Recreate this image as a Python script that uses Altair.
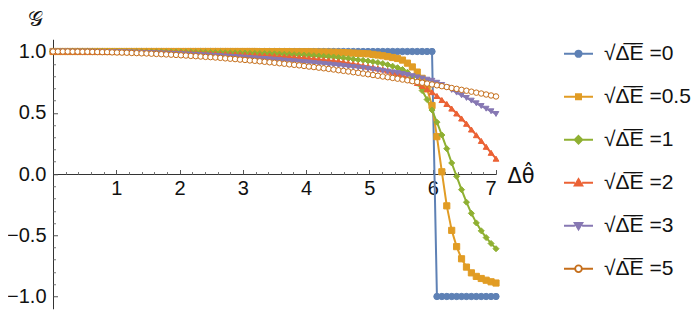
import altair as alt
import pandas as pd

# ---------------- data ----------------
theta = [round(i * 7 / 90, 4) for i in range(91)]

series_names = ["0", "0.5", "1", "2", "3", "5"]
colors = ["#5E81B5", "#E19C24", "#8FB032", "#EB6235", "#8778B3", "#C56E1A"]
fills = ["#5E81B5", "#E19C24", "#8FB032", "#EB6235", "#8778B3", "white"]
shapes = ["circle", "square", "diamond", "triangle-up", "triangle-down", "circle"]
sizes = [40, 30, 52, 48, 48, 40]

g_0 = [1.0] * 78 + [-1.0] * 13

g_05 = [1.0] * 42 + [
    0.999, 0.999, 0.999, 0.999, 0.999, 0.999, 0.999, 0.998,
    0.998, 0.998, 0.998, 0.997, 0.996, 0.996, 0.995, 0.994, 0.993, 0.991,
    0.989, 0.987, 0.985, 0.983, 0.981, 0.976, 0.971, 0.965, 0.958, 0.951,
    0.943, 0.930, 0.905, 0.874, 0.832, 0.781, 0.695, 0.559, 0.305, 0.018,
    -0.260, -0.460, -0.593, -0.692, -0.760, -0.807, -0.836, -0.853, -0.867, -0.880,
    -0.890]

g_1 = [
    1.000, 1.000, 1.000, 1.000, 1.000, 1.000, 1.000, 1.000, 0.999, 0.999,
    0.999, 0.999, 0.999, 0.999, 0.999, 0.998, 0.998, 0.998, 0.998, 0.997,
    0.997, 0.997, 0.997, 0.996, 0.996, 0.996, 0.996, 0.995, 0.995, 0.994,
    0.993, 0.993, 0.992, 0.991, 0.991, 0.990, 0.989, 0.989, 0.988, 0.988,
    0.986, 0.985, 0.984, 0.983, 0.982, 0.981, 0.979, 0.978, 0.976, 0.974,
    0.972, 0.971, 0.968, 0.966, 0.963, 0.960, 0.957, 0.955, 0.951, 0.947,
    0.942, 0.937, 0.932, 0.928, 0.923, 0.917, 0.910, 0.902, 0.892, 0.880,
    0.868, 0.853, 0.830, 0.791, 0.741, 0.681, 0.608, 0.522, 0.423, 0.318,
    0.207, 0.090, -0.019, -0.128, -0.230, -0.321, -0.399, -0.464, -0.519, -0.567,
    -0.610]

g_2 = [
    1.000, 1.000, 1.000, 1.000, 1.000, 1.000, 0.999, 0.999, 0.999, 0.999,
    0.998, 0.998, 0.998, 0.998, 0.997, 0.997, 0.996, 0.996, 0.996, 0.995,
    0.994, 0.994, 0.993, 0.992, 0.991, 0.991, 0.990, 0.989, 0.987, 0.986,
    0.985, 0.984, 0.983, 0.982, 0.980, 0.979, 0.978, 0.977, 0.976, 0.974,
    0.972, 0.970, 0.969, 0.967, 0.965, 0.963, 0.960, 0.957, 0.955, 0.952,
    0.949, 0.946, 0.943, 0.939, 0.935, 0.931, 0.927, 0.923, 0.919, 0.912,
    0.905, 0.898, 0.891, 0.884, 0.877, 0.869, 0.862, 0.854, 0.844, 0.831,
    0.819, 0.804, 0.784, 0.764, 0.743, 0.718, 0.693, 0.668, 0.637, 0.604,
    0.572, 0.534, 0.494, 0.453, 0.410, 0.363, 0.317, 0.270, 0.222, 0.173,
    0.125]

g_3 = [
    1.000, 1.000, 1.000, 1.000, 0.999, 0.999, 0.999, 0.999, 0.998, 0.997,
    0.997, 0.996, 0.995, 0.995, 0.994, 0.993, 0.992, 0.990, 0.989, 0.988,
    0.987, 0.985, 0.984, 0.982, 0.981, 0.979, 0.977, 0.976, 0.974, 0.972,
    0.970, 0.968, 0.966, 0.964, 0.962, 0.959, 0.957, 0.955, 0.952, 0.950,
    0.947, 0.944, 0.941, 0.939, 0.936, 0.933, 0.930, 0.926, 0.923, 0.920,
    0.917, 0.913, 0.910, 0.906, 0.902, 0.899, 0.895, 0.891, 0.887, 0.883,
    0.878, 0.873, 0.869, 0.864, 0.859, 0.854, 0.848, 0.842, 0.836, 0.830,
    0.824, 0.817, 0.808, 0.799, 0.789, 0.780, 0.770, 0.761, 0.745, 0.727,
    0.707, 0.686, 0.664, 0.642, 0.621, 0.599, 0.577, 0.555, 0.533, 0.512,
    0.490]

g_5 = [
    1.000, 1.000, 1.000, 1.000, 0.999, 0.999, 0.998, 0.998, 0.997, 0.996,
    0.995, 0.995, 0.993, 0.992, 0.991, 0.990, 0.988, 0.987, 0.985, 0.984,
    0.982, 0.980, 0.978, 0.976, 0.974, 0.972, 0.969, 0.967, 0.964, 0.962,
    0.959, 0.956, 0.954, 0.951, 0.948, 0.944, 0.941, 0.938, 0.934, 0.931,
    0.927, 0.924, 0.920, 0.916, 0.912, 0.908, 0.904, 0.900, 0.895, 0.891,
    0.887, 0.882, 0.877, 0.873, 0.868, 0.863, 0.858, 0.853, 0.847, 0.842,
    0.837, 0.831, 0.826, 0.820, 0.814, 0.808, 0.802, 0.796, 0.790, 0.784,
    0.778, 0.771, 0.765, 0.758, 0.752, 0.745, 0.738, 0.731, 0.724, 0.717,
    0.710, 0.702, 0.695, 0.687, 0.680, 0.672, 0.664, 0.657, 0.649, 0.641,
    0.633]

x_major = [1, 2, 3, 4, 5, 6, 7]
y_major = [-1.0, -0.5, 0.0, 0.5, 1.0]

# legend symbols: a short line with the series marker on it (unit coordinates)
legend_paths = [
    "M-1,0H-0.22M0.22,0H1M0.22,0A0.22,0.22,0,1,1,-0.22,0A0.22,0.22,0,1,1,0.22,0Z",
    "M-1,0H-0.18M0.18,0H1M-0.18,-0.18H0.18V0.18H-0.18Z",
    "M-1,0H-0.27M0.27,0H1M0,-0.27L0.27,0L0,0.27L-0.27,0Z",
    "M-1,0H-0.25M0.25,0H1M0,-0.26L0.27,0.2L-0.27,0.2Z",
    "M-1,0H-0.25M0.25,0H1M0,0.26L0.27,-0.2L-0.27,-0.2Z",
    "M-1,0H-0.23M0.23,0H1M0.23,0A0.23,0.23,0,1,1,-0.23,0A0.23,0.23,0,1,1,0.23,0Z",
]

# ---------------- table ----------------
all_vals = [g_0, g_05, g_1, g_2, g_3, g_5]
keys = ["k" + s for s in series_names]
labels = ["\u221a\u0394\u0305E\u0305 =" + s for s in series_names]
rows = []
for k, vals in enumerate(all_vals):
    for t, g in zip(theta, vals):
        rows.append({"x": t, "G": g, "key": keys[k], "order": k})
df = pd.DataFrame(rows)
legend_df = pd.DataFrame({"x": [None] * 6, "G": [None] * 6, "series": labels})

x_minor = [round(i * 0.2, 1) for i in range(1, 35) if i % 5 != 0]
y_minor = [round(i * 0.1, 1) for i in range(-10, 11) if i % 5 != 0]

W, H = 443, 269.5
Y0 = H / 2.0
FONT = "Liberation Sans"

xs = alt.Scale(domain=[0, 7], nice=False, zero=False)
ys = alt.Scale(domain=[-1.1, 1.1], nice=False, zero=False)

lines = alt.Chart(df).mark_line(strokeWidth=2).encode(
    x=alt.X("x:Q", scale=xs, axis=alt.Axis(
        orient="bottom", offset=-Y0, values=x_major, format="d", ticks=False, grid=False,
        domain=True, domainColor="#333", domainWidth=1,
        labelFont=FONT, labelFontSize=20, labelColor="#111", labelPadding=4,
        title="\u0394\u03b8\u0302", titleFont="DejaVu Sans", titleFontSize=21, titleFontWeight="normal",
        titleColor="#111", titleX=W + 11, titleY=8, titleAlign="left", titleBaseline="alphabetic",
    )),
    y=alt.Y("G:Q", scale=ys, axis=alt.Axis(
        orient="left", values=y_major, format=".1f", ticks=False, grid=False,
        domain=True, domainColor="#333", domainWidth=1,
        labelFont=FONT, labelFontSize=20, labelColor="#111", labelPadding=7,
        title="\U0001D4A2", titleFont="DejaVu Serif", titleFontSize=21, titleFontWeight="normal",
        titleColor="#111", titleAngle=0, titleX=-18, titleY=-20,
        titleAlign="center", titleBaseline="middle",
    )),
    color=alt.Color("key:N", scale=alt.Scale(domain=keys, range=colors), legend=None),
    detail="order:N",
    order="x:Q",
)

points = alt.Chart(df).mark_point(filled=True, opacity=1, strokeWidth=1).encode(
    x=alt.X("x:Q", scale=xs, axis=alt.Axis(
        orient="top", offset=-Y0, values=x_major, ticks=True, tickSize=4.5, tickColor="#555",
        labels=False, domain=False, grid=False, title=None)),
    y=alt.Y("G:Q", scale=ys, axis=alt.Axis(
        orient="right", offset=-W, values=y_major, ticks=True, tickSize=4.5, tickColor="#555",
        labels=False, domain=False, grid=False, title=None)),
    fill=alt.Fill("key:N", scale=alt.Scale(domain=keys, range=fills), legend=None),
    stroke=alt.Stroke("key:N", scale=alt.Scale(domain=keys, range=colors), legend=None),
    shape=alt.Shape("key:N", scale=alt.Scale(domain=keys, range=shapes), legend=None),
    size=alt.Size("key:N", scale=alt.Scale(domain=keys, range=sizes), legend=None),
)

minor = alt.Chart(df).mark_point(opacity=0).encode(
    x=alt.X("x:Q", scale=xs, axis=alt.Axis(
        orient="top", offset=-Y0, values=x_minor, ticks=True, tickSize=2.5, tickColor="#777",
        labels=False, domain=False, grid=False, title=None)),
    y=alt.Y("G:Q", scale=ys, axis=alt.Axis(
        orient="right", offset=-W, values=y_minor, ticks=True, tickSize=2.5, tickColor="#777",
        labels=False, domain=False, grid=False, title=None)),
)

leg = alt.Legend(
    title=None, orient="none", legendX=510, legendY=-1,
    symbolSize=841, symbolStrokeWidth=1.8, symbolOpacity=1,
    labelFont=FONT, labelFontSize=21, labelColor="#111", rowPadding=17,
    labelOffset=10,
)
legend_layer = alt.Chart(legend_df).mark_point(filled=True, opacity=1).encode(
    x=alt.X("x:Q", scale=xs, axis=None),
    y=alt.Y("G:Q", scale=ys, axis=None),
    fill=alt.Fill("series:N", scale=alt.Scale(domain=labels, range=fills), legend=leg),
    stroke=alt.Stroke("series:N", scale=alt.Scale(domain=labels, range=colors), legend=leg),
    shape=alt.Shape("series:N", scale=alt.Scale(domain=labels, range=legend_paths), legend=leg),
)

chart = alt.layer(lines, points, minor, legend_layer).resolve_axis(
    x="independent", y="independent"
).resolve_scale(
    fill="independent", stroke="independent", shape="independent", size="independent",
    color="independent",
).resolve_legend(
    fill="independent", stroke="independent", shape="independent",
).properties(
    width=W, height=H,
    padding={"left": 45, "top": 31.25, "right": 196, "bottom": 5},
    autosize=alt.AutoSizeParams(type="none"),
).configure_view(stroke=None)

chart.save("out.html", embed_options={"renderer": "svg", "actions": False})
